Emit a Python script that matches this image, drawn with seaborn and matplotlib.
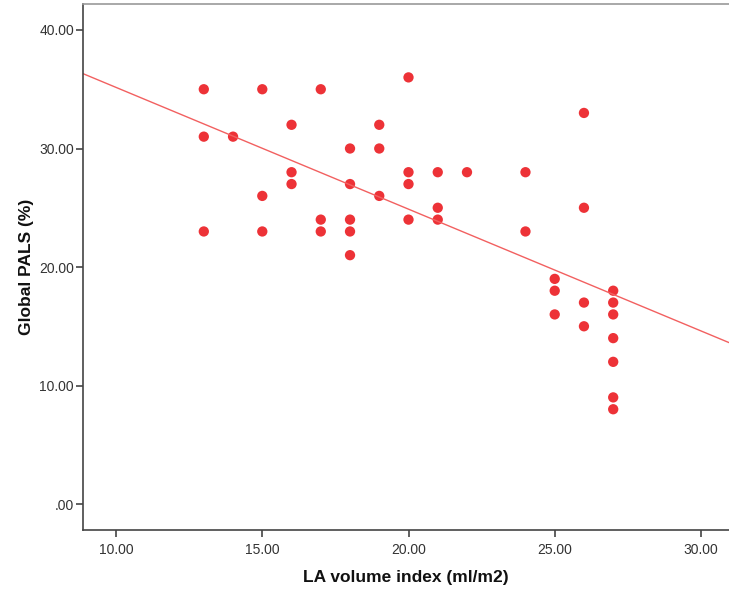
import numpy as np
import pandas as pd
import matplotlib
matplotlib.use("Agg")
import matplotlib.pyplot as plt
import seaborn as sns
from matplotlib.ticker import FuncFormatter

# LA volume index (ml/m2) and global PALS (%) per patient
la_volume_index = [13, 13, 13, 14, 15, 15, 15, 16, 16, 16, 17, 17, 17,
                   18, 18, 18, 18, 18, 19, 19, 19, 20, 20, 20, 20,
                   21, 21, 21, 22, 24, 24, 25, 25, 25, 26, 26, 26, 26,
                   27, 27, 27, 27, 27, 27, 27]
global_pals = [35, 31, 23, 31, 35, 26, 23, 32, 28, 27, 35, 24, 23,
               30, 27, 24, 23, 21, 32, 30, 26, 36, 28, 27, 24,
               28, 25, 24, 28, 28, 23, 19, 18, 16, 33, 25, 17, 15,
               18, 17, 16, 14, 12, 9, 8]

x_ticks = [10, 15, 20, 25, 30]
y_ticks = [0, 10, 20, 30, 40]

df = pd.DataFrame({"la": la_volume_index, "pals": global_pals})

sns.set_style("white")
plt.rcParams["font.family"] = ["Liberation Sans", "DejaVu Sans"]

fig = plt.figure(figsize=(7.29, 5.92), dpi=100)
ax = fig.add_axes([0.1139, 0.1047, 0.8861, 0.8885])
ax.set_xlim(8.87, 30.96)
ax.set_ylim(-2.19, 42.19)

sns.regplot(data=df, x="la", y="pals", ax=ax, ci=None, truncate=False,
            scatter_kws=dict(s=55, color="#ED3237", edgecolor="none", alpha=1),
            line_kws=dict(color="#F26060", linewidth=1.0))

ax.set_xlim(8.87, 30.96)
ax.set_ylim(-2.19, 42.19)
ax.set_xticks(x_ticks)
ax.set_yticks(y_ticks)

def fmt(v, _):
    s = f"{v:.2f}"
    return s[1:] if s.startswith("0") else s

ax.xaxis.set_major_formatter(FuncFormatter(fmt))
ax.yaxis.set_major_formatter(FuncFormatter(fmt))

for side in ["left", "bottom", "top"]:
    ax.spines[side].set_visible(True)
    ax.spines[side].set_color("#444444")
    ax.spines[side].set_linewidth(1.2)
ax.spines["top"].set_color("#999999")
ax.spines["right"].set_visible(False)

ax.tick_params(axis="both", which="major", direction="out", length=5,
               width=1.2, color="#444444", labelsize=10, labelcolor="#333333",
               left=True, bottom=True)
ax.tick_params(axis="y", pad=1.5)
ax.tick_params(axis="x", pad=4)

ax.set_xlabel("LA volume index (ml/m2)", fontsize=12.5, fontweight="bold",
              color="#111111", labelpad=10)
ax.set_ylabel("Global PALS (%)", fontsize=12.5, fontweight="bold",
              color="#111111", labelpad=4)

fig.savefig("out.png", dpi=100)
